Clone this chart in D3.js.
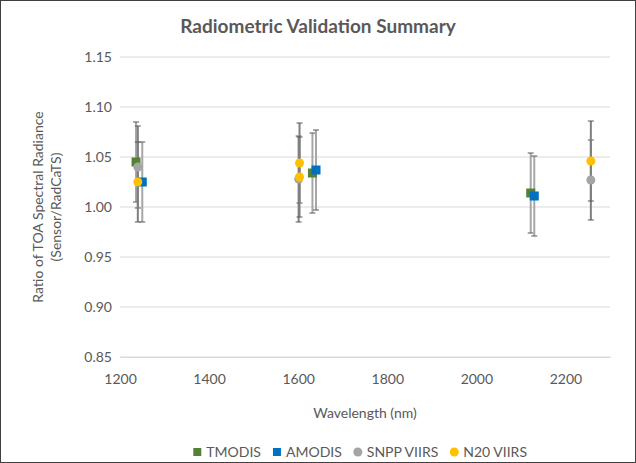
<!DOCTYPE html>
<html>
<head>
<meta charset="utf-8">
<script src="https://cdn.jsdelivr.net/npm/d3@7"></script>
<style>
body { margin:0; background:#fff; }
svg text { font-family: Lato, "Open Sans", sans-serif; fill:#595959; }
</style>
</head>
<body>
<svg id="chart"></svg>
<script>
// series data: wavelength (nm), ratio, error (+/-)
var tmodis = [
    {w:1236, v:1.045, e:0.040},
    {w:1632, v:1.034, e:0.040},
    {w:2122, v:1.014, e:0.040}
]
var amodis = [
    {w:1250, v:1.025, e:0.040},
    {w:1640, v:1.037, e:0.040},
    {w:2130, v:1.011, e:0.040}
]
var snpp = [
    {w:1240, v:1.040, e:0.041},
    {w:1601, v:1.028, e:0.043},
    {w:2257, v:1.027, e:0.040}
]
var n20 = [
    {w:1240, v:1.025, e:0.040},
    {w:1603, v:1.044, e:0.040},
    {w:1603, v:1.030, e:0.040},
    {w:2257, v:1.046, e:0.040}
]
var yTicks = [0.85, 0.90, 0.95, 1.00, 1.05, 1.10, 1.15]
var xTicks = [1200, 1400, 1600, 1800, 2000, 2200]
var seriesNames = ["TMODIS", "AMODIS", "SNPP VIIRS", "N20 VIIRS"]
var seriesColors = ["#548235", "#0070C0", "#A5A5A5", "#FFC000"]
var seriesShapes = ["square", "square", "circle", "circle"]

var width = 636
var height = 463
var margins = {top:57, bottom:106, left:120, right:26}

var svg = d3.select("#chart")
    .attr("width", width)
    .attr("height", height)

svg.append("rect")
    .attr("x", 0.5).attr("y", 0.5)
    .attr("width", width-1).attr("height", height-1)
    .attr("fill", "#fff")
    .attr("stroke", "#404040")

var xScale = d3.scaleLinear()
    .domain([1200, 2300])
    .range([margins.left, width-margins.right])

var yScale = d3.scaleLinear()
    .domain([0.85, 1.15])
    .range([height-margins.bottom, margins.top])

// gridlines
svg.append("g")
    .selectAll("line")
    .data(yTicks)
    .enter()
    .append("line")
    .attr("x1", margins.left)
    .attr("x2", width-margins.right)
    .attr("y1", function(d){return yScale(d)})
    .attr("y2", function(d){return yScale(d)})
    .attr("stroke", "#D9D9D9")
    .attr("stroke-width", 1)

// axes
var yAxis = d3.axisLeft(yScale)
    .tickValues(yTicks)
    .tickFormat(d3.format(".2f"))
    .tickSize(0)
    .tickPadding(8)

var xAxis = d3.axisBottom(xScale)
    .tickValues(xTicks)
    .tickFormat(d3.format("d"))
    .tickSize(0)
    .tickPadding(17)

var gy = svg.append("g")
    .attr("transform", "translate("+margins.left+",0)")
    .call(yAxis)
gy.select(".domain").remove()

var gx = svg.append("g")
    .attr("transform", "translate(0,"+(height-margins.bottom)+")")
    .call(xAxis)
gx.select(".domain").attr("stroke", "#D9D9D9")

svg.selectAll(".tick text")
    .style("font-size", "14px")
    .attr("fill", "#595959")

// labels
svg.append("text")
    .text("Radiometric Validation Summary")
    .attr("x", width/2)
    .attr("y", 33)
    .attr("text-anchor", "middle")
    .style("font-size", "19px")
    .style("font-weight", "bold")

svg.append("text")
    .text("Wavelength (nm)")
    .attr("x", (margins.left + width - margins.right)/2)
    .attr("y", 418)
    .attr("text-anchor", "middle")
    .style("font-size", "14px")

var yTitle = svg.append("g")
    .attr("transform", "translate(43,"+((margins.top + height - margins.bottom)/2)+") rotate(-90)")
yTitle.append("text")
    .text("Ratio of TOA Spectral Radiance")
    .attr("text-anchor", "middle")
    .style("font-size", "14px")
yTitle.append("text")
    .text("(Sensor/RadCaTS)")
    .attr("y", 18)
    .attr("text-anchor", "middle")
    .style("font-size", "14px")

// error bars + markers
var allSeries = [tmodis, amodis, snpp, n20]

allSeries.forEach(function(series, i)
{
    var g = svg.append("g")
    var bars = g.selectAll("g.err")
        .data(series)
        .enter()
        .append("g")
        .classed("err", true)
    bars.append("line")
        .attr("x1", function(d){return xScale(d.w)})
        .attr("x2", function(d){return xScale(d.w)})
        .attr("y1", function(d){return yScale(d.v + d.e)})
        .attr("y2", function(d){return yScale(d.v - d.e)})
        .attr("stroke", i < 2 ? "#A6A6A6" : "#7F7F7F")
        .attr("stroke-width", 2)
    bars.append("line")
        .attr("x1", function(d){return xScale(d.w)-3})
        .attr("x2", function(d){return xScale(d.w)+3})
        .attr("y1", function(d){return yScale(d.v + d.e)})
        .attr("y2", function(d){return yScale(d.v + d.e)})
        .attr("stroke", "#595959")
        .attr("stroke-width", 1)
    bars.append("line")
        .attr("x1", function(d){return xScale(d.w)-3})
        .attr("x2", function(d){return xScale(d.w)+3})
        .attr("y1", function(d){return yScale(d.v - d.e)})
        .attr("y2", function(d){return yScale(d.v - d.e)})
        .attr("stroke", "#595959")
        .attr("stroke-width", 1)
})

allSeries.forEach(function(series, i)
{
    var g = svg.append("g")
    if (seriesShapes[i] == "square")
    {
        g.selectAll("rect")
            .data(series)
            .enter()
            .append("rect")
            .attr("x", function(d){return xScale(d.w)-4.5})
            .attr("y", function(d){return yScale(d.v)-4.5})
            .attr("width", 9)
            .attr("height", 9)
            .attr("fill", seriesColors[i])
    }
    else
    {
        g.selectAll("circle")
            .data(series)
            .enter()
            .append("circle")
            .attr("cx", function(d){return xScale(d.w)})
            .attr("cy", function(d){return yScale(d.v)})
            .attr("r", 4.5)
            .attr("fill", seriesColors[i])
    }
})

// legend, laid out left to right, right end near x=527
var legend = svg.append("g")
    .attr("transform", "translate(0,452)")

var items = []
seriesNames.forEach(function(name, i)
{
    var item = legend.append("g")
    if (seriesShapes[i] == "square")
    {
        item.append("rect")
            .attr("x", -4).attr("y", -4)
            .attr("width", 8).attr("height", 8)
            .attr("fill", seriesColors[i])
    }
    else
    {
        item.append("circle")
            .attr("r", 4.5)
            .attr("fill", seriesColors[i])
    }
    var t = item.append("text")
        .text(name)
        .attr("x", 9)
        .attr("y", 5)
        .style("font-size", "14px")
    items.push({g:item, w:9 + t.node().getComputedTextLength()})
})

var gap = 16
var total = d3.sum(items, function(d){return d.w}) + gap*(items.length-1) + 4
var cursor = 527 - total + 4
items.forEach(function(d)
{
    d.g.attr("transform", "translate("+cursor+",0)")
    cursor += d.w + gap
})
</script>
</body>
</html>
